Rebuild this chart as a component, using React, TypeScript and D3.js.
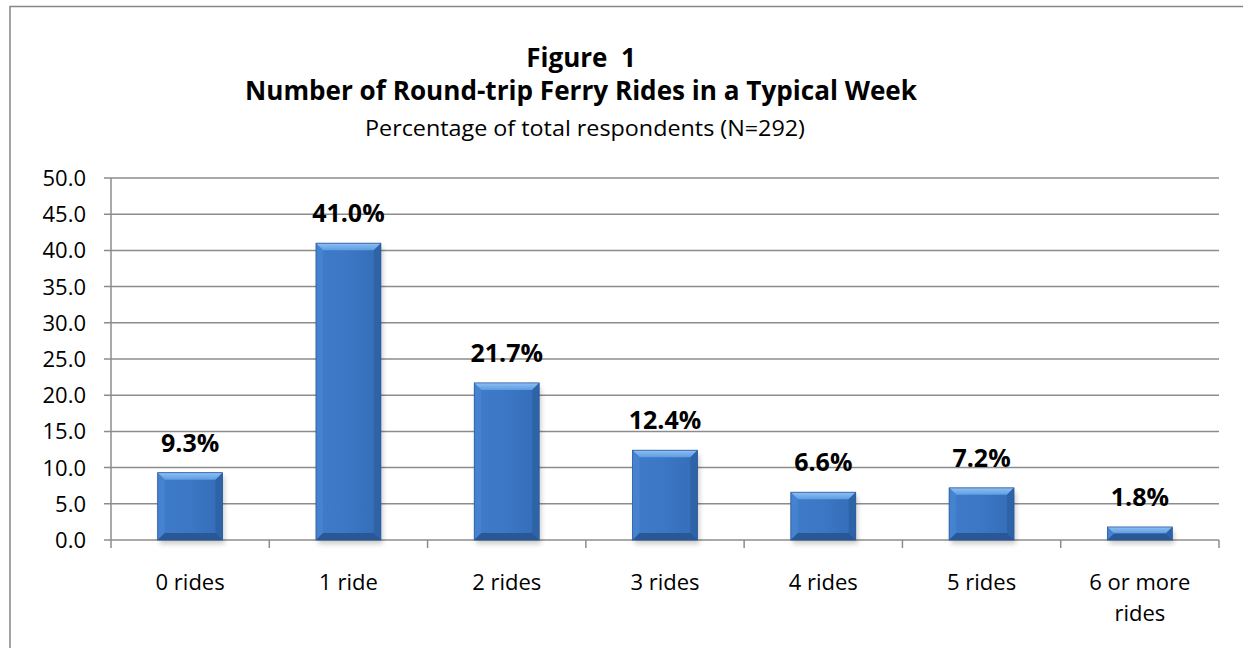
import * as d3 from "d3";
import React from "react";

const categories = ["0 rides", "1 ride", "2 rides", "3 rides", "4 rides", "5 rides", "6 or more rides"];
const percentages = [9.3, 41.0, 21.7, 12.4, 6.6, 7.2, 1.8];
const yTicks = [0, 5, 10, 15, 20, 25, 30, 35, 40, 45, 50];
const titleLines = ["Figure  1", "Number of Round-trip Ferry Rides in a Typical Week"];
const subtitle = "Percentage of total respondents (N=292)";

const W = 1243;
const H = 648;
const FONT = "'Open Sans', 'Noto Sans', sans-serif";

// plot area
const left = 111;
const right = 1219;
const top = 178;
const bottom = 540;

// wrap long category names into two lines like Excel does
function wrapLabel(s: string): string[] {
    if (s.length > 8) {
        const i = s.lastIndexOf(" ");
        return [s.slice(0, i), s.slice(i + 1)];
    }
    return [s];
}

function Bar({ x, y, w, h }: { x: number; y: number; w: number; h: number }) {
    const b = Math.min(7, h / 2, w / 2);
    const x1 = x + w;
    const y1 = y + h;
    return (
        <g>
            <rect x={x + 2} y={y + 4} width={w} height={h} fill="#000" opacity={0.2} filter="url(#shadow)" />
            <rect x={x} y={y} width={w} height={h} fill="url(#barBody)" />
            {/* top bevel */}
            <path d={`M${x},${y}L${x1},${y}L${x1 - b},${y + b}L${x + b},${y + b}Z`} fill="url(#bevelTop)" />
            {/* left bevel */}
            <path d={`M${x},${y}L${x + b},${y + b}L${x + b},${y1 - b}L${x},${y1}Z`} fill="#4684d0" opacity={0.85} />
            {/* right bevel */}
            <path d={`M${x1},${y}L${x1},${y1}L${x1 - b},${y1 - b}L${x1 - b},${y + b}Z`} fill="#2f63a8" />
            {/* bottom bevel */}
            <path d={`M${x},${y1}L${x + b},${y1 - b}L${x1 - b},${y1 - b}L${x1},${y1}Z`} fill="#2a5896" />
            <rect x={x} y={y} width={w} height={h} fill="none" stroke="#2a5a9c" strokeWidth={0.8} />
        </g>
    );
}

export default function App() {
    const x = d3.scaleBand<string>().domain(categories).range([left, right]);
    const y = d3.scaleLinear().domain([0, 50]).range([bottom, top]);
    const barW = x.bandwidth() * 0.41;

    return (
        <svg width={W} height={H} style={{ position: "absolute", left: 0, top: 0, background: "#fff" }} fontFamily={FONT}>
            <defs>
                <linearGradient id="barBody" x1="0" x2="1" y1="0" y2="0">
                    <stop offset="0" stopColor="#3f7bc8" />
                    <stop offset="0.5" stopColor="#3b77c5" />
                    <stop offset="1" stopColor="#346cb6" />
                </linearGradient>
                <linearGradient id="bevelTop" x1="0" x2="0" y1="0" y2="1">
                    <stop offset="0" stopColor="#8fc0f3" />
                    <stop offset="1" stopColor="#5e9de3" />
                </linearGradient>
                <filter id="shadow" x="-20%" y="-20%" width="140%" height="140%">
                    <feGaussianBlur stdDeviation="2.5" />
                </filter>
            </defs>

            {/* chart frame */}
            <rect x={10} y={6.5} width={W + 20} height={H + 20} fill="none" stroke="#878787" strokeWidth={1.5} />

            {/* titles */}
            <text x={581} y={67} textAnchor="middle" fontWeight="bold" fontSize={26} style={{ whiteSpace: "pre" }}>
                {titleLines[0]}
            </text>
            <text x={581} y={100} textAnchor="middle" fontWeight="bold" fontSize={26} textLength={672} lengthAdjust="spacingAndGlyphs">
                {titleLines[1]}
            </text>
            <text x={585} y={136} textAnchor="middle" fontSize={22} textLength={440} lengthAdjust="spacingAndGlyphs">
                {subtitle}
            </text>

            {/* gridlines + y ticks */}
            {yTicks.map((t) => (
                <g key={t}>
                    <line x1={104} x2={right} y1={y(t)} y2={y(t)} stroke="#8c8c8c" strokeWidth={1.5} />
                    <text x={86} y={y(t)} dy="0.36em" textAnchor="end" fontSize={22} fill="#000">
                        {t.toFixed(1)}
                    </text>
                </g>
            ))}

            {/* axes */}
            <line x1={left} x2={left} y1={top} y2={bottom} stroke="#8c8c8c" strokeWidth={1.5} />
            {[...categories.map((c) => x(c)!), right].map((v, i) => (
                <line key={i} x1={v} x2={v} y1={bottom} y2={bottom + 8} stroke="#8c8c8c" strokeWidth={1.5} />
            ))}

            {/* bars */}
            {categories.map((c, i) => {
                const cx = x(c)! + x.bandwidth() / 2;
                return (
                    <g key={c}>
                        <Bar x={cx - barW / 2} y={y(percentages[i])} w={barW} h={bottom - y(percentages[i])} />
                        <text x={cx} y={y(percentages[i]) - 21} textAnchor="middle" fontWeight="bold" fontSize={25}>
                            {percentages[i].toFixed(1)}%
                        </text>
                    </g>
                );
            })}

            {/* category labels */}
            {categories.map((c) => {
                const cx = x(c)! + x.bandwidth() / 2;
                return (
                    <text key={c} x={cx} y={590} textAnchor="middle" fontSize={22}>
                        {wrapLabel(c).map((line, j) => (
                            <tspan key={j} x={cx} dy={j === 0 ? 0 : 31}>
                                {line}
                            </tspan>
                        ))}
                    </text>
                );
            })}
        </svg>
    );
}
